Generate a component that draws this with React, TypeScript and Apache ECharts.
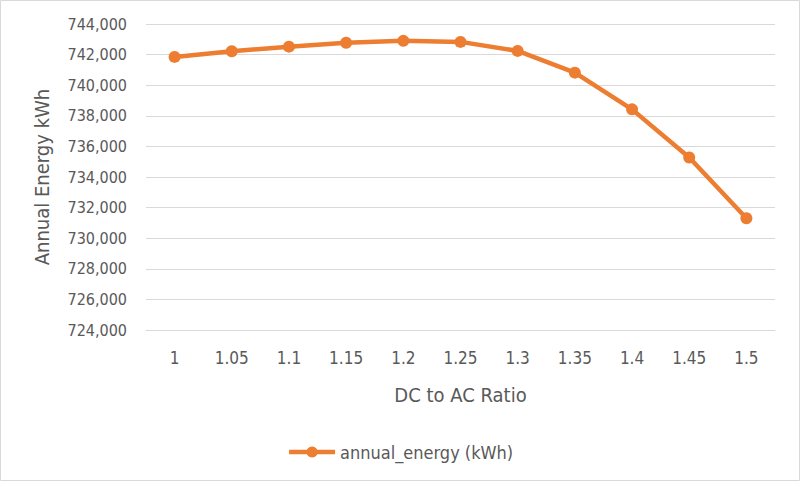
import React, { useEffect, useRef } from "react";
import * as echarts from "echarts";

const categories = ["1", "1.05", "1.1", "1.15", "1.2", "1.25", "1.3", "1.35", "1.4", "1.45", "1.5"];
const annualEnergy = [741850, 742220, 742520, 742770, 742900, 742830, 742240, 740820, 738420, 735270, 731300];
const seriesName = "annual_energy (kWh)";
const yMin = 724000;
const yMax = 744000;
const yStep = 2000;

const FONT = "'Liberation Sans Narrow', 'DejaVu Sans Condensed', 'Liberation Sans', sans-serif";

export default function App() {
  const ref = useRef<HTMLDivElement>(null);
  useEffect(() => {
    document.body.style.margin = "0";
    const chart = echarts.init(ref.current!, undefined, { renderer: "svg" });
    chart.setOption({
      animation: false,
      backgroundColor: "#ffffff",
      textStyle: { fontFamily: FONT },
      grid: { left: 146, right: 25, top: 24, bottom: 151 },
      legend: {
        data: [seriesName],
        top: 438,
        left: "center",
        itemWidth: 46,
        itemHeight: 14,
        itemGap: 4,
        lineStyle: { width: 4.5 },
        textStyle: { color: "#595959", fontSize: 18, fontFamily: FONT },
      },
      xAxis: {
        type: "category",
        data: categories,
        boundaryGap: true,
        name: "DC to AC Ratio",
        nameLocation: "middle",
        nameGap: 55,
        nameTextStyle: { color: "#595959", fontSize: 20, fontFamily: FONT },
        axisLine: { show: true, lineStyle: { color: "#D9D9D9" } },
        axisTick: { show: false },
        axisLabel: { color: "#595959", fontSize: 17, margin: 19, fontFamily: FONT },
      },
      yAxis: {
        type: "value",
        min: yMin,
        max: yMax,
        interval: yStep,
        name: "Annual Energy kWh",
        nameLocation: "middle",
        nameGap: 94,
        nameRotate: 90,
        nameTextStyle: { color: "#595959", fontSize: 20, fontFamily: FONT },
        axisLine: { show: false },
        axisTick: { show: false },
        splitLine: { lineStyle: { color: "#D9D9D9", width: 1 } },
        axisLabel: {
          color: "#595959",
          fontSize: 16,
          margin: 19,
          fontFamily: FONT,
          formatter: (v: number) => v.toLocaleString("en-US"),
        },
      },
      series: [
        {
          name: seriesName,
          type: "line",
          data: annualEnergy,
          symbol: "circle",
          symbolSize: 12,
          lineStyle: { color: "#ED7D31", width: 4.5 },
          itemStyle: { color: "#ED7D31" },
        },
      ],
      graphic: [
        {
          type: "rect",
          shape: { x: 0.5, y: 0.5, width: 799, height: 480 },
          style: { fill: "none", stroke: "#D9D9D9", lineWidth: 1 },
          silent: true,
        },
      ],
    });
    return () => chart.dispose();
  }, []);
  return <div ref={ref} style={{ width: 800, height: 481 }} />;
}
